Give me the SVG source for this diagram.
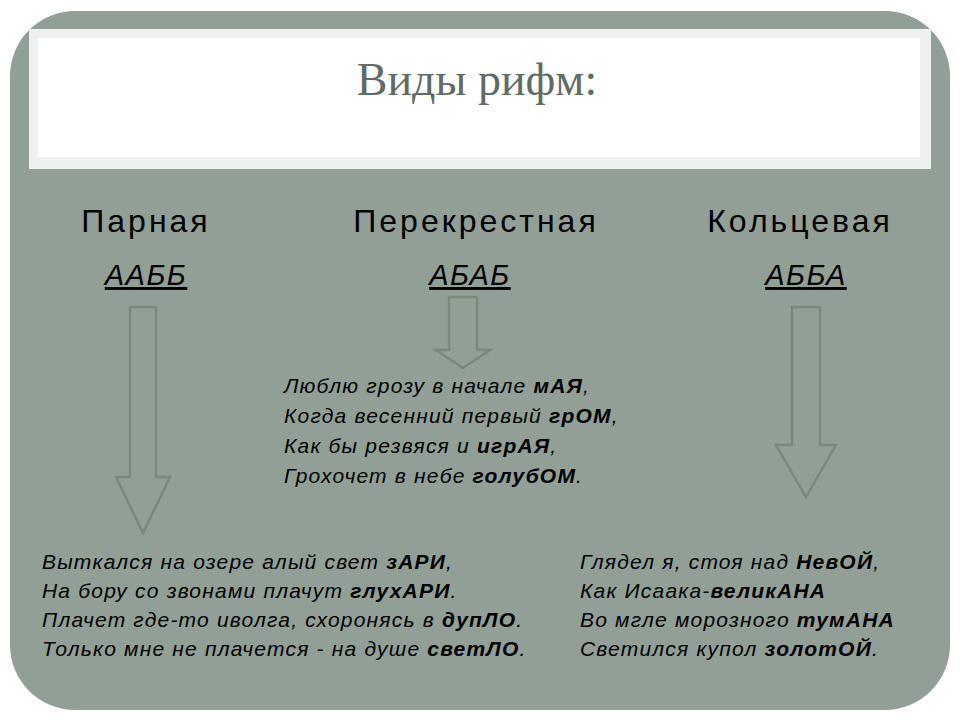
<svg xmlns="http://www.w3.org/2000/svg" width="960" height="720" viewBox="0 0 960 720">
<style>
.h{font-family:"Liberation Sans",Arial,sans-serif;font-size:32px;letter-spacing:3px;fill:#000;text-anchor:middle}
.s{font-family:"Liberation Sans",Arial,sans-serif;font-size:29px;letter-spacing:1.5px;font-style:italic;text-decoration:underline;fill:#000;text-anchor:middle}
.p{font-family:"Liberation Sans",Arial,sans-serif;font-size:21px;letter-spacing:1.2px;font-style:italic;fill:#000}
.p tspan.b{font-weight:bold}
.ar{fill:#929f96;stroke:#7b887e;stroke-width:2.5}
</style>
<rect width="960" height="720" fill="#fff"/>
<rect x="10" y="11" width="940" height="699" rx="65" fill="#929f96"/>
<rect x="29" y="29" width="902" height="140" fill="#eef1ef"/>
<rect x="38" y="38" width="882" height="119" fill="#fff"/>
<text x="477" y="95" text-anchor="middle" font-family="Liberation Serif,serif" font-size="46" fill="#5f6b63">Виды рифм:</text>
<g id="parnaya"><text class="h" x="146" y="232">Парная</text><text class="s" x="146" y="285">ААББ</text></g>
<g id="perekrestnaya"><text class="h" x="476" y="232">Перекрестная</text><text class="s" x="470" y="285">АБАБ</text></g>
<g id="koltsevaya"><text class="h" x="800" y="232">Кольцевая</text><text class="s" x="806" y="285">АББА</text></g>
<g id="connectors">
<polygon class="ar" points="130,307 156,307 156,477 170,477 143,533 116,477 130,477"/>
<polygon class="ar" points="449,297 477,297 477,350 490,350 463,368 436,350 449,350"/>
<polygon class="ar" points="792,307 820,307 820,445 836,445 806,497 776,445 792,445"/>
</g>
<g id="poem-middle">
<text class="p" x="284" y="393">Люблю грозу в начале <tspan class="b">мАЯ</tspan>,</text>
<text class="p" x="284" y="423">Когда весенний первый <tspan class="b">грОМ</tspan>,</text>
<text class="p" x="284" y="453">Как бы резвяся и <tspan class="b">игрАЯ</tspan>,</text>
<text class="p" x="284" y="483">Грохочет в небе <tspan class="b">голубОМ</tspan>.</text>
</g>
<g id="poem-left">
<text class="p" x="42" y="569">Выткался на озере алый свет <tspan class="b">зАРИ</tspan>,</text>
<text class="p" x="42" y="598">На бору со звонами плачут <tspan class="b">глухАРИ</tspan>.</text>
<text class="p" x="42" y="627">Плачет где-то иволга, схоронясь в <tspan class="b">дупЛО</tspan>.</text>
<text class="p" x="42" y="656">Только мне не плачется - на душе <tspan class="b">светЛО</tspan>.</text>
</g>
<g id="poem-right">
<text class="p" x="580" y="569">Глядел я, стоя над <tspan class="b">НевОЙ</tspan>,</text>
<text class="p" x="580" y="598">Как Исаака-<tspan class="b">великАНА</tspan></text>
<text class="p" x="580" y="627">Во мгле морозного <tspan class="b">тумАНА</tspan></text>
<text class="p" x="580" y="656">Светился купол <tspan class="b">золотОЙ</tspan>.</text>
</g>
</svg>
